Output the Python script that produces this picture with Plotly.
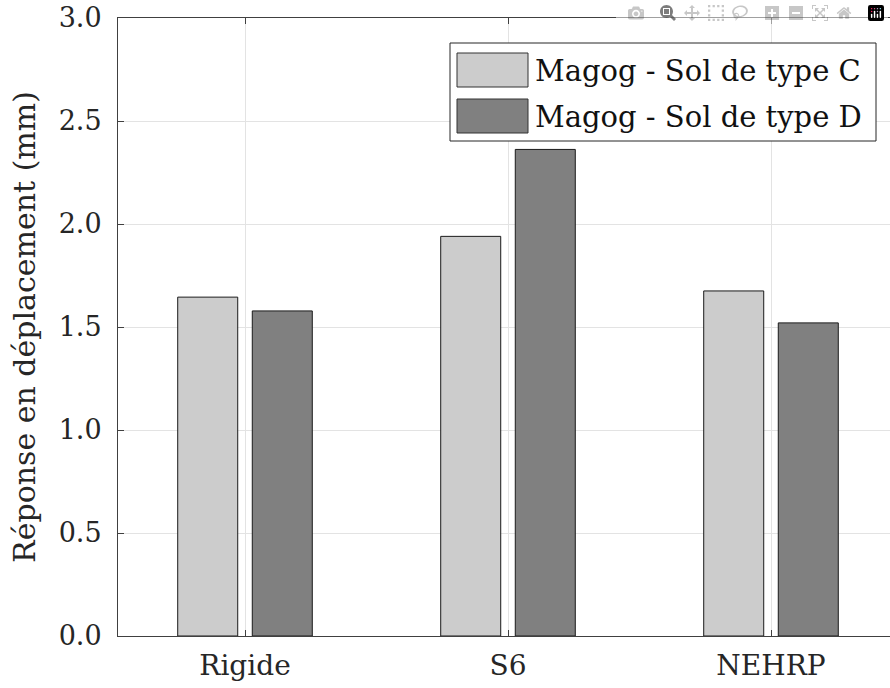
import plotly.graph_objects as go

categories = ["Rigide", "S6", "NEHRP"]
series_names = ["Magog - Sol de type C", "Magog - Sol de type D"]
values_C = [1.645, 1.940, 1.675]
values_D = [1.578, 2.362, 1.520]
y_ticks = [0.0, 0.5, 1.0, 1.5, 2.0, 2.5, 3.0]

colors = ["#cccccc", "#808080"]
FONT = "DejaVu Serif"
TXT = "#262626"
x_pos = [1, 2, 3]

fig = go.Figure()
for name, vals, col in zip(series_names, [values_C, values_D], colors):
    fig.add_trace(go.Bar(
        x=x_pos, y=vals, name=name,
        marker=dict(color=col, line=dict(color="#1a1a1a", width=1)),
        showlegend=False,
    ))

# plot area in page pixels (body margin removed by post_script)
L, R, T, B = 118, 890, 18, 636
def px(x):
    return (x - L) / (R - L)
def py(y):
    return (B - y) / (B - T)

shapes = [dict(type="rect", xref="paper", yref="paper",
               x0=px(450), x1=px(876), y0=py(141), y1=py(43),
               line=dict(color="#262626", width=1), fillcolor="white", layer="above")]
sw_rows = [(53, 87), (99, 133)]
annotations = []
for (y0, y1), col, name in zip(sw_rows, colors, series_names):
    shapes.append(dict(type="rect", xref="paper", yref="paper",
                       x0=px(457), x1=px(528), y0=py(y1), y1=py(y0),
                       line=dict(color="#333333", width=1), fillcolor=col, layer="above"))
    annotations.append(dict(xref="paper", yref="paper", x=px(533), y=py((y0 + y1) / 2 + 1),
                            text=name, showarrow=False, xanchor="left", yanchor="middle",
                            font=dict(family=FONT, size=29, color="#111111")))

fig.update_layout(
    width=890, height=688,
    margin=dict(l=L, r=0, t=T, b=688 - B, autoexpand=False),
    paper_bgcolor="white", plot_bgcolor="white",
    barmode="group", bargap=0.433, bargroupgap=0.195,
    shapes=shapes, annotations=annotations,
    font=dict(family=FONT, color=TXT),
    showlegend=False,
)
fig.update_xaxes(
    range=[1 - 127 / 263, 3 + 119 / 263],
    tickvals=x_pos, ticktext=categories,
    ticks="inside", ticklen=6, tickcolor="#404040",
    showline=True, linecolor="#404040", linewidth=1, mirror="ticks",
    showgrid=True, gridcolor="#e3e3e3", gridwidth=1,
    tickfont=dict(family=FONT, size=28, color=TXT),
    ticklabelstandoff=4, ticklabeloverflow="allow",
    zeroline=False, automargin=False,
)
fig.update_yaxes(
    range=[0, 3.0], tickvals=y_ticks, tickformat=".1f",
    ticks="inside", ticklen=6, tickcolor="#404040",
    showline=True, linecolor="#404040", linewidth=1, mirror=False,
    showgrid=True, gridcolor="#e3e3e3", gridwidth=1,
    tickfont=dict(family=FONT, size=27, color=TXT),
    ticklabelstandoff=10, ticklabeloverflow="allow",
    title=dict(text="Réponse en déplacement (mm)", font=dict(family=FONT, size=30, color=TXT), standoff=14),
    zeroline=False, automargin=False,
)

post = "document.body.style.margin='0';document.body.style.padding='0';"
fig.write_html("out.html", post_script=post)
